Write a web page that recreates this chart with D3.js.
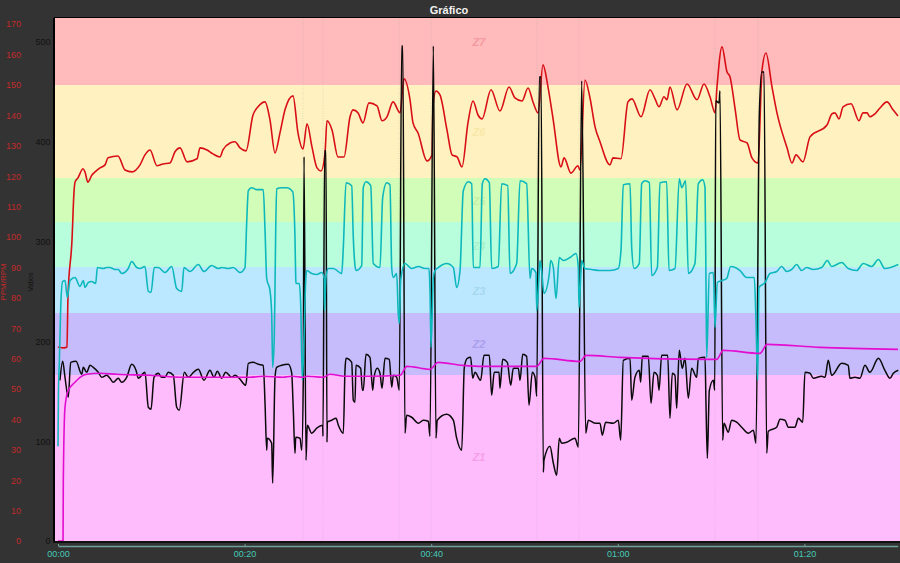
<!DOCTYPE html>
<html>
<head>
<meta charset="utf-8">
<script src="https://cdn.jsdelivr.net/npm/d3@7"></script>
<style>
  html, body { margin: 0; padding: 0; background: #333; overflow: hidden; }
  svg { display: block; }
  text { font-family: "Liberation Sans", sans-serif; }
</style>
</head>
<body>
<div id="chart"></div>
<script>
// zones, floor of each band in watts
const zoneNames = ["Z1", "Z2", "Z3", "Z4", "Z5", "Z6", "Z7"];
const zoneFloor = [0, 166, 228, 275, 320, 364, 457];
const zoneLabelAt = [80, 193, 246, 292, 337, 406, 496];
const zoneFill = ["#ffbcfd", "#c7bcfb", "#bce8ff", "#b8fedd", "#d2fdb8", "#fff2c0", "#ffbabb"];
const zoneText = ["#f5a0e8", "#a9a0ee", "#a5d8ee", "#a8f0cc", "#c4f0a8", "#f8e8a8", "#f59aa0"];

const lapMarks = [26.26, 28.4, 36.55, 39.98, 51.34, 55.84, 70.42, 75.03];

const bpmTicks = [0, 10, 20, 30, 40, 50, 60, 70, 80, 90, 100, 110, 120, 130, 140, 150, 160, 170];
const wattTicks = [0, 100, 200, 300, 400, 500];
const timeTicks = [0, 20, 40, 60, 80];

// heart rate
const hrMin = [0, .64, .96, 1.07, 1.5, 1.71, 1.82, 2.14, 2.68, 2.89, 3.2, 3.64, 3.97, 4.5, 5.04, 5.36, 6.43, 7.18, 7.93, 8.79, 9.32, 9.86, 10.61, 11.25, 12, 12.54, 13.08, 13.83, 14.9, 15.22, 15.97, 16.61, 17.36, 17.68, 18.44, 18.97, 19.51, 20.15, 20.9, 21.44, 22.19, 22.72, 23.26, 23.79, 24.33, 25.19, 25.72, 26.26, 26.69, 27.22, 27.76, 28.19, 28.62, 28.83, 29.37, 30.01, 30.65, 31.3, 31.62, 32.15, 32.69, 33.33, 34.19, 34.73, 35.26, 35.91, 36.66, 37.08, 37.73, 38.05, 38.59, 39.55, 40.09, 40.19, 40.51, 40.94, 41.69, 42.23, 42.77, 43.3, 43.94, 44.48, 45.02, 45.45, 46.41, 47.37, 48.34, 48.98, 49.73, 50.38, 50.91, 51.45, 51.98, 52.52, 53.05, 53.91, 54.24, 54.98, 55.73, 55.95, 56.48, 57.02, 57.56, 58.09, 59.16, 59.49, 60.34, 61.09, 61.52, 62.49, 63.45, 63.99, 64.42, 64.95, 65.27, 65.59, 66.35, 67.42, 68.49, 69.24, 69.88, 70.42, 70.63, 71.17, 71.7, 72.03, 72.56, 73.1, 73.85, 74.38, 75.03, 75.46, 75.88, 76.53, 77.06, 78.14, 78.67, 79.1, 79.85, 80.6, 82.42, 82.96, 83.28, 83.71, 84.14, 85, 85.85, 86.28, 86.71, 87.03, 87.57, 88.1, 88.85, 89.5, 90.03];
const hrBpm = [63.8, 63.5, 63.8, 80.3, 99, 114.5, 118, 119.4, 122.4, 121.4, 118, 120.4, 121.4, 122.7, 123.7, 126, 126.6, 122, 121.4, 123.7, 127, 128.6, 123.4, 124, 124.3, 128, 129.3, 124.7, 125.7, 129.3, 128.6, 127.3, 126.3, 128.6, 130.9, 131.3, 129.3, 128.3, 140.1, 142.8, 144.4, 138.5, 127.6, 134.2, 141.8, 146.4, 134.2, 128.9, 137.2, 129.6, 122.7, 121.7, 127.6, 138.2, 135.2, 126.3, 126.3, 139.5, 141.8, 140.8, 137.5, 144.1, 143.1, 138.2, 139.5, 144.4, 140.8, 152, 145.1, 137.5, 134.2, 125, 127, 142.8, 148, 146.7, 135.2, 127, 126.3, 123, 137.5, 144.7, 140.1, 138.8, 148.4, 141.4, 149.3, 145.7, 144.7, 149, 144.4, 140.8, 156.6, 149.3, 139.1, 123, 126, 121, 123.4, 122, 151.6, 145.7, 136.2, 131.3, 123.7, 126, 125.7, 144.4, 145.4, 139.5, 148.4, 145.4, 142.8, 146.1, 145.1, 149.3, 141.8, 150.3, 145.1, 150.3, 146.1, 140.8, 149.3, 162.5, 154.3, 152.6, 142.4, 131.9, 130.9, 126, 124.3, 154.9, 160.5, 149.3, 140.8, 129.3, 124.3, 127, 124.7, 132.9, 136.8, 140.5, 140.8, 138.8, 142.8, 143.8, 138.2, 140.8, 140.8, 139.5, 140.5, 142.4, 144.4, 141.8, 139.8];

// power
const powerMin = [.21, .5, .75, 1.1, 1.36, 1.93, 2.54, 2.71, 3.08, 3.43, 3.78, 4.32, 4.68, 5.22, 5.57, 5.93, 6.46, 6.83, 7.36, 7.9, 8.36, 8.61, 9.32, 9.68, 9.97, 10.29, 10.75, 11.11, 11.47, 11.82, 12.36, 12.72, 13, 13.54, 13.97, 14.51, 15.04, 15.65, 16.29, 16.72, 17.08, 17.55, 17.97, 18.62, 18.97, 19.43, 20.12, 20.4, 20.93, 21.47, 22, 22.19, 22.37, 22.43, 22.9, 23.01, 23.26, 23.44, 23.97, 24.68, 25.04, 25.22, 25.4, 25.48, 25.94, 26.12, 26.29, 26.37, 26.58, 26.72, 27.19, 27.73, 28.37, 28.4, 28.58, 28.72, 28.83, 28.87, 29.33, 29.8, 30.05, 30.58, 30.76, 30.87, 31.48, 31.65, 31.83, 31.94, 32.44, 32.62, 32.72, 33.01, 33.44, 33.73, 33.87, 34.22, 34.51, 34.73, 35.05, 35.51, 35.77, 35.94, 36.3, 36.58, 36.84, 36.95, 37.19, 37.37, 37.91, 38.62, 39.16, 39.69, 39.87, 40.23, 40.51, 40.65, 41.66, 42.37, 42.73, 43.27, 43.55, 43.87, 44.23, 44.45, 44.69, 45.3, 45.66, 46.23, 46.48, 46.76, 47.27, 47.37, 47.66, 48.16, 48.52, 48.8, 49.34, 49.52, 49.81, 50.23, 50.48, 50.84, 51.13, 51.31, 51.59, 51.77, 52.02, 52.09, 52.73, 53.09, 53.45, 53.73, 53.98, 54.52, 55.41, 55.77, 56.13, 56.56, 56.84, 57.56, 58.09, 58.34, 58.7, 59.52, 60.05, 60.31, 60.59, 61.31, 61.49, 61.84, 62.3, 62.45, 62.63, 63.27, 63.56, 63.88, 64.24, 64.42, 64.7, 65.35, 65.59, 65.84, 66.13, 66.31, 66.59, 66.91, 67.2, 67.56, 67.91, 68.45, 68.63, 69.35, 69.45, 69.6, 69.81, 70.24, 70.39, 70.5, 70.85, 70.95, 71.24, 71.38, 71.84, 72.2, 72.74, 73.28, 73.99, 74.53, 74.81, 75.17, 75.43, 75.67, 75.96, 76.13, 77.03, 77.39, 77.92, 78.28, 78.99, 79.35, 79.82, 80.06, 80.6, 80.95, 81.85, 82.21, 82.56, 82.92, 84, 84.7, 84.88, 85.42, 85.95, 86.49, 87.03, 87.93, 88.63, 89.17, 89.53, 90.06];
const powerWatts = [161, 180, 164, 144, 179, 180, 167, 174, 169, 176, 174, 169, 164, 166, 163, 159, 163, 159, 164, 177, 171, 163, 169, 134, 132, 164, 168, 164, 164, 169, 166, 134, 131, 169, 164, 169, 172, 161, 171, 164, 170, 163, 169, 164, 166, 163, 156, 178, 179, 177, 176, 138, 91, 103, 98, 58, 164, 174, 176, 177, 169, 131, 88, 104, 103, 91, 161, 385, 81, 116, 108, 113, 116, 105, 391, 391, 99, 119, 121, 123, 116, 108, 171, 183, 179, 141, 139, 176, 173, 151, 151, 187, 184, 151, 164, 173, 168, 153, 183, 182, 154, 166, 164, 151, 496, 496, 108, 126, 124, 118, 121, 120, 105, 496, 103, 121, 127, 121, 103, 91, 174, 183, 184, 163, 169, 161, 186, 186, 146, 169, 169, 153, 182, 179, 156, 173, 173, 161, 187, 185, 136, 169, 164, 145, 465, 465, 69, 81, 95, 78, 66, 103, 98, 99, 103, 94, 461, 108, 121, 118, 118, 106, 119, 118, 121, 101, 181, 183, 141, 164, 171, 159, 185, 185, 138, 169, 166, 151, 186, 186, 123, 168, 166, 133, 191, 173, 183, 143, 173, 164, 183, 184, 138, 83, 151, 161, 151, 441, 439, 451, 101, 118, 109, 121, 119, 114, 108, 111, 98, 428, 470, 470, 88, 110, 114, 122, 121, 114, 114, 123, 119, 169, 168, 163, 165, 164, 181, 166, 178, 176, 163, 164, 163, 176, 169, 183, 171, 163, 168, 171];

// cadence trace, read against the watts axis
const cyanMin = [0, .05, .14, .32, .5, .75, 1, 1.29, 1.82, 2.36, 2.71, 2.89, 3.25, 3.61, 4.04, 4.22, 4.86, 5.22, 5.57, 6.11, 6.46, 6.83, 7.53, 7.9, 8.44, 8.79, 9.32, 9.68, 9.97, 10.32, 10.75, 11.47, 12.19, 12.72, 13.26, 13.5, 14.15, 15.04, 15.65, 16.47, 17.18, 17.55, 18.25, 18.79, 19.51, 20.04, 20.22, 20.4, 20.76, 21.3, 22, 22.19, 22.37, 22.72, 22.9, 23.01, 23.18, 23.26, 23.33, 23.44, 23.97, 24.51, 25.16, 25.4, 25.48, 25.51, 25.86, 26.01, 26.19, 26.37, 26.55, 26.66, 27.19, 27.73, 28.26, 28.54, 28.56, 28.72, 28.97, 29.51, 30.41, 30.58, 30.87, 31.48, 31.65, 31.83, 31.94, 32.55, 32.72, 33.01, 33.52, 33.79, 34.51, 34.8, 35.23, 35.58, 35.77, 35.94, 36.3, 36.47, 36.58, 36.73, 37.19, 37.91, 38.62, 39.34, 39.76, 39.87, 39.98, 40.23, 40.41, 40.76, 41.66, 42.37, 42.73, 43.09, 43.44, 43.98, 44.34, 44.51, 45.23, 45.48, 45.77, 46.23, 46.48, 47.19, 47.55, 48.2, 48.45, 49.16, 49.52, 50.23, 50.59, 50.77, 51.23, 51.31, 51.59, 51.66, 51.84, 52.09, 52.66, 52.81, 53.09, 53.38, 53.73, 54.16, 54.88, 55.52, 55.77, 55.84, 56.06, 56.13, 56.48, 57.2, 58.09, 59.16, 60.05, 60.34, 60.59, 61.31, 61.49, 61.74, 62.3, 62.56, 62.92, 63.38, 63.63, 64.24, 64.52, 65.24, 65.49, 66.13, 66.59, 66.85, 67.27, 67.56, 68.27, 68.63, 69.1, 69.35, 69.45, 69.53, 69.81, 70.24, 70.42, 70.67, 71.14, 71.67, 72.1, 73.1, 73.81, 74.63, 74.81, 74.99, 75.13, 75.78, 76.31, 77.03, 77.56, 78.1, 78.63, 79.17, 79.71, 80.24, 80.95, 81.85, 82.46, 82.92, 84, 84.7, 85.6, 86.31, 87.21, 87.93, 88.63, 90.06];
const cyanVal = [95, 151, 178, 241, 260, 261, 244, 261, 264, 255, 261, 254, 259, 260, 258, 274, 273, 274, 274, 272, 272, 268, 273, 280, 274, 273, 275, 250, 249, 274, 274, 269, 275, 253, 250, 274, 270, 277, 270, 276, 273, 274, 273, 274, 269, 274, 318, 351, 354, 352, 352, 311, 263, 251, 228, 174, 204, 254, 308, 353, 354, 354, 350, 304, 263, 258, 258, 238, 161, 204, 261, 271, 268, 267, 269, 263, 231, 264, 273, 273, 268, 294, 359, 356, 304, 276, 271, 276, 354, 360, 356, 278, 274, 344, 359, 357, 273, 264, 268, 228, 218, 261, 278, 273, 275, 273, 273, 251, 194, 264, 271, 274, 278, 274, 254, 271, 351, 360, 358, 274, 274, 358, 363, 359, 273, 275, 358, 356, 268, 278, 361, 358, 263, 273, 269, 231, 271, 281, 271, 248, 268, 281, 274, 243, 284, 281, 284, 288, 274, 234, 271, 281, 273, 272, 271, 271, 273, 291, 357, 358, 294, 273, 278, 358, 361, 359, 266, 274, 359, 360, 271, 273, 363, 354, 361, 268, 278, 358, 362, 354, 261, 184, 268, 269, 214, 259, 261, 263, 275, 271, 264, 264, 221, 161, 254, 259, 268, 270, 275, 270, 272, 277, 271, 274, 272, 274, 281, 275, 279, 273, 271, 278, 275, 282, 273, 277];

// normalised power
const npMin = [0, .54, .57, .75, 1.1, 1.82, 2.36, 3.07, 4.5, 6.3, 9.86, 13.4, 20.58, 21.97, 24.1, 25.08, 26.26, 26.69, 28.4, 29.15, 30.76, 33.44, 36.66, 37.4, 39.87, 40.73, 43.4, 45.55, 50.59, 51.3, 52.09, 55.95, 56.6, 60.24, 69.35, 70.6, 71.3, 75.24, 76, 81.67, 90.03];
const npWatts = [0, 0, 61, 134, 151, 159, 164, 167, 168, 167, 166, 164, 164, 165, 164, 165, 164, 165, 164, 167, 165, 165, 166, 175, 172, 179, 176, 175, 175, 175, 183, 180, 186, 184, 182, 182, 191, 188, 197, 194, 192];

const width = 900, height = 563;
const left = 55, top_ = 18, bottom = 541;

const x = d3.scaleLinear().domain([0, 90]).range([58, 897.7]);
const yBpm = d3.scaleLinear().domain([0, 172]).range([bottom, top_]);
const yWatt = d3.scaleLinear().domain([0, 524]).range([bottom, top_]);

const svg = d3.select("#chart").append("svg")
  .attr("width", width)
  .attr("height", height);

svg.append("rect").attr("width", width).attr("height", height).attr("fill", "#333");

svg.append("defs").append("clipPath").attr("id", "plotClip")
  .append("rect")
  .attr("x", left).attr("y", top_)
  .attr("width", width - left).attr("height", bottom - top_);

// title
svg.append("text")
  .attr("x", 449).attr("y", 14)
  .attr("text-anchor", "middle")
  .attr("fill", "#f2f2f2")
  .attr("font-size", 11)
  .attr("font-weight", "bold")
  .text("Gráfico");

// zone bands
const zoneData = zoneNames.map((name, i) => ({
  name: name,
  lo: zoneFloor[i],
  hi: i < zoneFloor.length - 1 ? zoneFloor[i + 1] : yWatt.domain()[1],
  fill: zoneFill[i],
  ink: zoneText[i],
  at: zoneLabelAt[i]
}));

svg.append("g").attr("shape-rendering", "crispEdges").selectAll("rect")
  .data(zoneData)
  .enter()
  .append("rect")
  .attr("x", left)
  .attr("y", d => yWatt(d.hi))
  .attr("width", width - left)
  .attr("height", d => yWatt(d.lo) - yWatt(d.hi))
  .attr("fill", d => d.fill);

svg.append("g").selectAll("text")
  .data(zoneData)
  .enter()
  .append("text")
  .attr("x", 479)
  .attr("y", d => yWatt(d.at))
  .attr("text-anchor", "middle")
  .attr("font-size", 11)
  .attr("font-style", "italic")
  .attr("font-weight", "bold")
  .attr("fill", d => d.ink)
  .text(d => d.name);

// lap markers
svg.append("g").selectAll("line")
  .data(lapMarks)
  .enter()
  .append("line")
  .attr("x1", d => x(d)).attr("x2", d => x(d))
  .attr("y1", top_).attr("y2", bottom)
  .attr("stroke", "#a0a0a0")
  .attr("stroke-opacity", 0.3)
  .attr("stroke-dasharray", "1 1.5");

// series
function zipSeries(times, values) {
  return times.map((t, i) => [t, values[i]]);
}

const plot = svg.append("g").attr("clip-path", "url(#plotClip)");

const hrLine = d3.line().x(d => x(d[0])).y(d => yBpm(d[1])).curve(d3.curveMonotoneX);
const wattLine = d3.line().x(d => x(d[0])).y(d => yWatt(d[1])).curve(d3.curveMonotoneX);

plot.append("path").attr("d", hrLine(zipSeries(hrMin, hrBpm)))
  .attr("fill", "none").attr("stroke", "#d80f16").attr("stroke-width", 1.6);
plot.append("path").attr("d", wattLine(zipSeries(powerMin, powerWatts)))
  .attr("fill", "none").attr("stroke", "#0a0a0a").attr("stroke-width", 1.5);
plot.append("path").attr("d", wattLine(zipSeries(cyanMin, cyanVal)))
  .attr("fill", "none").attr("stroke", "#0db8bc").attr("stroke-width", 1.6);
plot.append("path").attr("d", wattLine(zipSeries(npMin, npWatts)))
  .attr("fill", "none").attr("stroke", "#e20dd0").attr("stroke-width", 1.6);

// frame
svg.append("line").attr("x1", left - 1).attr("x2", width).attr("y1", top_ - 0.5).attr("y2", top_ - 0.5)
  .attr("stroke", "#000").attr("stroke-width", 1);
svg.append("line").attr("x1", left - 1).attr("x2", left - 1).attr("y1", top_).attr("y2", bottom + 2)
  .attr("stroke", "#000").attr("stroke-width", 2);
svg.append("line").attr("x1", left - 2).attr("x2", width).attr("y1", bottom + 1).attr("y2", bottom + 1)
  .attr("stroke", "#111").attr("stroke-width", 2);

// axes
const bpmAxis = svg.append("g")
  .attr("transform", "translate(21,0)")
  .call(d3.axisLeft(yBpm).tickValues(bpmTicks).tickSize(0).tickPadding(0));
bpmAxis.select(".domain").remove();
bpmAxis.selectAll("text").attr("fill", "#c22a2a").attr("font-size", 9);

const wattAxis = svg.append("g")
  .attr("transform", "translate(50.5,0)")
  .call(d3.axisLeft(yWatt).tickValues(wattTicks).tickSize(0).tickPadding(0));
wattAxis.select(".domain").remove();
wattAxis.selectAll("text").attr("fill", "#111").attr("font-size", 9);

function clock(m) {
  const h = Math.floor(m / 60);
  return String(h).padStart(2, "0") + ":" + String(m % 60).padStart(2, "0");
}

const timeAxis = svg.append("g")
  .attr("transform", "translate(0,546)")
  .call(d3.axisBottom(x).tickValues(timeTicks).tickFormat(clock).tickSizeInner(-2).tickSizeOuter(0).tickPadding(5));
timeAxis.select(".domain").attr("stroke", "#6f9f99").attr("stroke-width", 1.6);
timeAxis.selectAll(".tick line").attr("stroke", "#6f9f99");
timeAxis.selectAll("text").attr("fill", "#45cbb8").attr("font-size", 9);

// rotated axis titles
svg.append("text")
  .attr("transform", "translate(6,282) rotate(-90)")
  .attr("text-anchor", "middle")
  .attr("fill", "#c22a2a")
  .attr("font-size", 8)
  .text("PPM/RPM");
svg.append("text")
  .attr("transform", "translate(33,282) rotate(-90)")
  .attr("text-anchor", "middle")
  .attr("fill", "#111")
  .attr("font-size", 7)
  .text("Vatios");
</script>
</body>
</html>
